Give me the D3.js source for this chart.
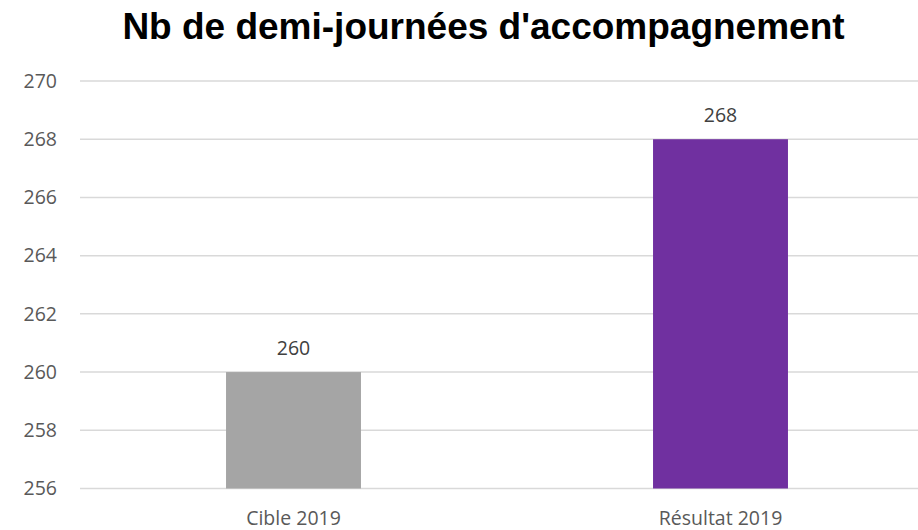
<!DOCTYPE html>
<html>
<head>
<meta charset="utf-8">
<script src="https://cdn.jsdelivr.net/npm/d3@7"></script>
<style>
  body { margin: 0; background: #fff; }
  svg { display: block; }
</style>
</head>
<body>
<svg id="chart" width="918" height="530"></svg>
<script>
const title = "Nb de demi-journées d'accompagnement";
const categories = ["Cible 2019", "Résultat 2019"];
const values = [260, 268];
const colors = ["#A5A5A5", "#7030A0"];
const yTicks = [256, 258, 260, 262, 264, 266, 268, 270];

const width = 918;
const height = 530;

const svg = d3.select("#chart");

// Scales
const x = d3.scaleBand().domain(categories).range([80, 934]).paddingInner(0.684).paddingOuter(0.342);
const y = d3.scaleLinear().domain([256, 270]).range([488.5, 81]);

// Grid
svg.append("g")
  .selectAll("line")
  .data(yTicks)
  .join("line")
  .attr("x1", 80)
  .attr("x2", width)
  .attr("y1", (d) => y(d))
  .attr("y2", (d) => y(d))
  .attr("stroke", "#D9D9D9")
  .attr("stroke-width", 1.5);

// Y axis labels
const yAxis = svg.append("g")
  .attr("transform", "translate(80,0)")
  .call(d3.axisLeft(y).tickValues(yTicks).tickSize(0).tickPadding(23));
yAxis.select(".domain").remove();
yAxis.selectAll("text")
  .attr("fill", "#595959")
  .style("font-family", "'Open Sans', sans-serif")
  .style("font-size", "19.5px");

// Bars
svg.append("g")
  .selectAll("rect")
  .data(values)
  .join("rect")
  .attr("x", (d, i) => x(categories[i]))
  .attr("y", (d) => y(d))
  .attr("width", x.bandwidth())
  .attr("height", (d) => y(256) - y(d))
  .attr("fill", (d, i) => colors[i]);

// Value labels
svg.append("g")
  .selectAll("text")
  .data(values)
  .join("text")
  .attr("x", (d, i) => x(categories[i]) + x.bandwidth() / 2)
  .attr("y", (d) => y(d) - 17)
  .attr("text-anchor", "middle")
  .attr("fill", "#404040")
  .style("font-family", "'Open Sans', sans-serif")
  .style("font-size", "19.5px")
  .text((d) => d);

// X axis labels
const xAxis = svg.append("g")
  .attr("transform", `translate(0,${y(256)})`)
  .call(d3.axisBottom(x).tickSize(0).tickPadding(23));
xAxis.select(".domain").remove();
xAxis.selectAll("text")
  .attr("fill", "#595959")
  .style("font-family", "'Open Sans', sans-serif")
  .style("font-size", "19.5px");

// Title
svg.append("text")
  .attr("x", 483.5)
  .attr("y", 39.3)
  .attr("text-anchor", "middle")
  .attr("fill", "#000")
  .style("font-family", "'Liberation Sans', Arial, sans-serif")
  .style("font-weight", "bold")
  .style("font-size", "37px")
  .text(title);
</script>
</body>
</html>
